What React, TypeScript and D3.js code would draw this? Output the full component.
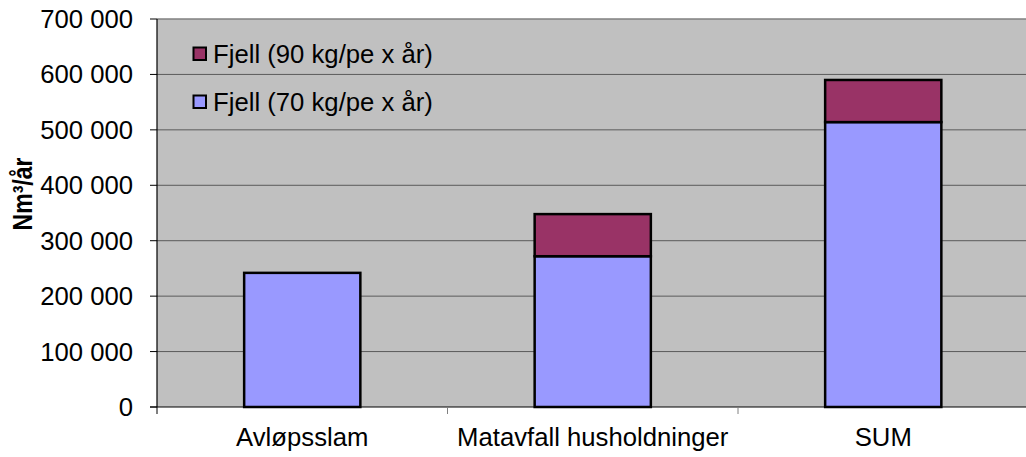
import React from "react";
import * as d3 from "d3";

const categories = ["Avløpsslam", "Matavfall husholdninger", "SUM"];
const series70 = [242000, 272000, 514000];
const series90 = [0, 76000, 76000];
const seriesNames = ["Fjell (90 kg/pe x år)", "Fjell (70 kg/pe x år)"];
const yTicks = [0, 100000, 200000, 300000, 400000, 500000, 600000, 700000];
const yTitle = "Nm³/år";

const W = 1026;
const H = 457;
const left = 157;
const right = 1028.5;
const top = 19;
const bottom = 407;
const font = "Arial, 'Liberation Sans', sans-serif";

export default function App() {
  const x = d3.scaleBand<string>().domain(categories).range([left, right]).paddingInner(0).paddingOuter(0);
  const y = d3.scaleLinear().domain([0, 700000]).range([bottom, top]);
  const barW = x.bandwidth() * 0.4;
  const fmt = (v: number) => d3.format(",")(v).replace(/,/g, " ");
  const stacks = categories.map((c, i) => ({
    c,
    b0: 0,
    b1: series70[i],
    r0: series70[i],
    r1: series70[i] + series90[i],
  }));
  return (
    <svg width={W} height={H} style={{ position: "absolute", left: 0, top: 0, background: "#fff" }}>
      <rect x={left} y={top} width={right - left} height={bottom - top} fill="#C0C0C0" />
      <line x1={left} x2={right} y1={top} y2={top} stroke="#808080" strokeWidth={1.5} />
      {yTicks.slice(1, -1).map((t) => (
        <line key={t} x1={left} x2={right} y1={y(t)} y2={y(t)} stroke="#5a5a5a" strokeWidth={1} />
      ))}
      {stacks.map((s) => {
        const bx = (x(s.c) as number) + (x.bandwidth() - barW) / 2;
        return (
          <g key={s.c}>
            <rect x={bx} y={y(s.b1)} width={barW} height={y(s.b0) - y(s.b1)} fill="#9999FF" stroke="#000" strokeWidth={2.5} />
            {s.r1 > s.r0 && (
              <rect x={bx} y={y(s.r1)} width={barW} height={y(s.r0) - y(s.r1)} fill="#993366" stroke="#000" strokeWidth={2.5} />
            )}
          </g>
        );
      })}
      <line x1={left} x2={left} y1={top} y2={bottom} stroke="#000" strokeWidth={1.2} />
      <line x1={left - 7} x2={right} y1={bottom} y2={bottom} stroke="#000" strokeWidth={1.2} />
      {yTicks.map((t) => (
        <g key={"t" + t}>
          <line x1={left - 7} x2={left} y1={y(t)} y2={y(t)} stroke="#000" strokeWidth={1} />
          <text x={133} y={y(t)} dy="0.35em" textAnchor="end" fontFamily={font} fontSize={25.7} fill="#000">
            {fmt(t)}
          </text>
        </g>
      ))}
      {categories.map((c, i) => (
        <g key={"c" + c}>
          <line x1={(x(c) as number)} x2={(x(c) as number)} y1={bottom} y2={bottom + 7} stroke={i === 0 ? "#000" : "#808080"} strokeWidth={1} />
          <text x={(x(c) as number) + x.bandwidth() / 2} y={446} textAnchor="middle" fontFamily={font} fontSize={25.7} fill="#000">
            {c}
          </text>
        </g>
      ))}
      <text transform="translate(31.5,194) rotate(-90) scale(1,1.2)" textAnchor="middle" fontFamily={font} fontSize={23} fontWeight="bold" fill="#000">
        {yTitle}
      </text>
      {seriesNames.map((n, i) => (
        <g key={n}>
          <rect x={193.5} y={47.5 + i * 48} width={12.5} height={12.5} fill={i === 0 ? "#993366" : "#9999FF"} stroke="#000" strokeWidth={2} />
          <text x={213} y={54 + i * 48} dy="0.35em" fontFamily={font} fontSize={25.7} fill="#000">
            {n}
          </text>
        </g>
      ))}
    </svg>
  );
}
